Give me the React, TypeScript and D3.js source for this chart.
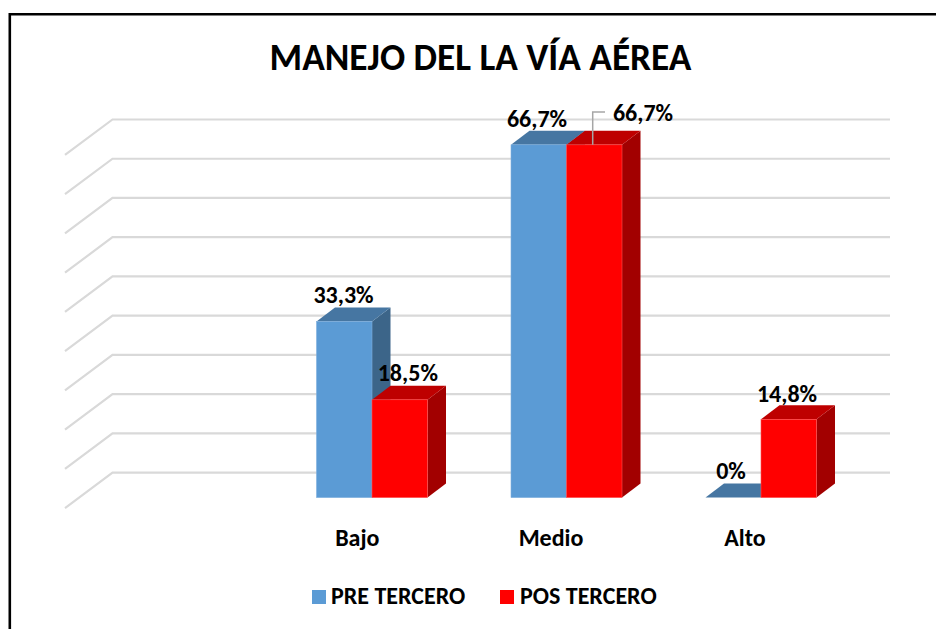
import React from "react";
import * as d3 from "d3";

const title = "MANEJO DEL LA VÍA AÉREA";
const categories = ["Bajo", "Medio", "Alto"];
const seriesNames = ["PRE TERCERO", "POS TERCERO"];
const preValues = [33.3, 66.7, 0];
const posValues = [18.5, 66.7, 14.8];
const preLabels = ["33,3%", "66,7%", "0%"];
const posLabels = ["18,5%", "66,7%", "14,8%"];
const gridTicks = [0, 7.42, 14.84, 22.25, 29.67, 37.09, 44.51, 51.93, 59.34, 66.76];

const FONT = "Carlito, Calibri, 'Open Sans', 'Noto Sans', sans-serif";
const W = 936, H = 629;
const DX = 18.5, DY = 14;
const BASE = 497.6;
const y = d3.scaleLinear().domain([0, 66.7]).range([BASE, 144.8]);
const x0 = d3.scaleOrdinal<string, number>().domain(categories).range([316.5, 511, 705.5]);
const barW = 55.5;

const colors = [
  { front: "#5B9BD5", top: "#4676A2", side: "#3C6589", edge: "#7FB0DE" },
  { front: "#FF0000", top: "#BE0000", side: "#A20000", edge: "#FF5050" },
];

function Bar({ x, v, c }: { x: number; v: number; c: typeof colors[0] }) {
  const t = y(v);
  const r = x + barW;
  return (
    <g>
      <polygon points={`${r},${t} ${r + DX},${t - DY} ${r + DX},${BASE - DY} ${r},${BASE}`} fill={c.side} />
      <polygon points={`${x},${t} ${x + DX},${t - DY} ${r + DX},${t - DY} ${r},${t}`} fill={c.top} />
      {v > 0 && <rect x={x} y={t} width={barW} height={BASE - t} fill={c.front} stroke={c.edge} strokeWidth={0.6} />}
    </g>
  );
}

export default function App() {
  const line = d3.line();
  return (
    <svg width={W} height={H} style={{ position: "absolute", left: 0, top: 0, background: "#fff" }} fontFamily={FONT}>
      <path d={`M9.8,${H} V14.3 H${W}`} fill="none" stroke="#000" strokeWidth={2.6} />
      {gridTicks.map((g) => {
        const yb = y(g) - 25;
        return (
          <path
            key={g}
            d={line([[65, yb + 35.5], [112.5, yb], [890, yb]]) as string}
            fill="none"
            stroke="#D9D9D9"
            strokeWidth={2.2}
          />
        );
      })}
      <text x={480.5} y={70} textAnchor="middle" fontSize={37.3} fontWeight={700}>{title}</text>

      {categories.map((cat, i) => {
        const x = x0(cat);
        return (
          <g key={cat}>
            <Bar x={x} v={preValues[i]} c={colors[0]} />
            <Bar x={x + barW} v={posValues[i]} c={colors[1]} />
          </g>
        );
      })}

      <polyline points="592.7,144.8 592.7,112 605,112" fill="none" stroke="#A6A6A6" strokeWidth={1.5} />

      {[[343.5, 302.7], [537, 126.5], [731, 479.3]].map(([lx, ly], i) => (
        <text key={i} x={lx} y={ly} textAnchor="middle" fontSize={24} fontWeight={700}>{preLabels[i]}</text>
      ))}
      {[[407.8, 381], [643, 121], [787, 401.7]].map(([lx, ly], i) => (
        <text key={i} x={lx} y={ly} textAnchor="middle" fontSize={24} fontWeight={700}>{posLabels[i]}</text>
      ))}

      {categories.map((cat, i) => (
        <text key={cat} x={[357.3, 551, 745][i]} y={545.7} textAnchor="middle" fontSize={24} fontWeight={700}>{cat}</text>
      ))}

      <rect x={312} y={590} width={14} height={14} fill={colors[0].front} />
      <text x={331} y={603.5} fontSize={24} fontWeight={700}>{seriesNames[0]}</text>
      <rect x={500} y={590} width={14} height={14} fill={colors[1].front} />
      <text x={520} y={603.5} fontSize={24} fontWeight={700}>{seriesNames[1]}</text>
    </svg>
  );
}
